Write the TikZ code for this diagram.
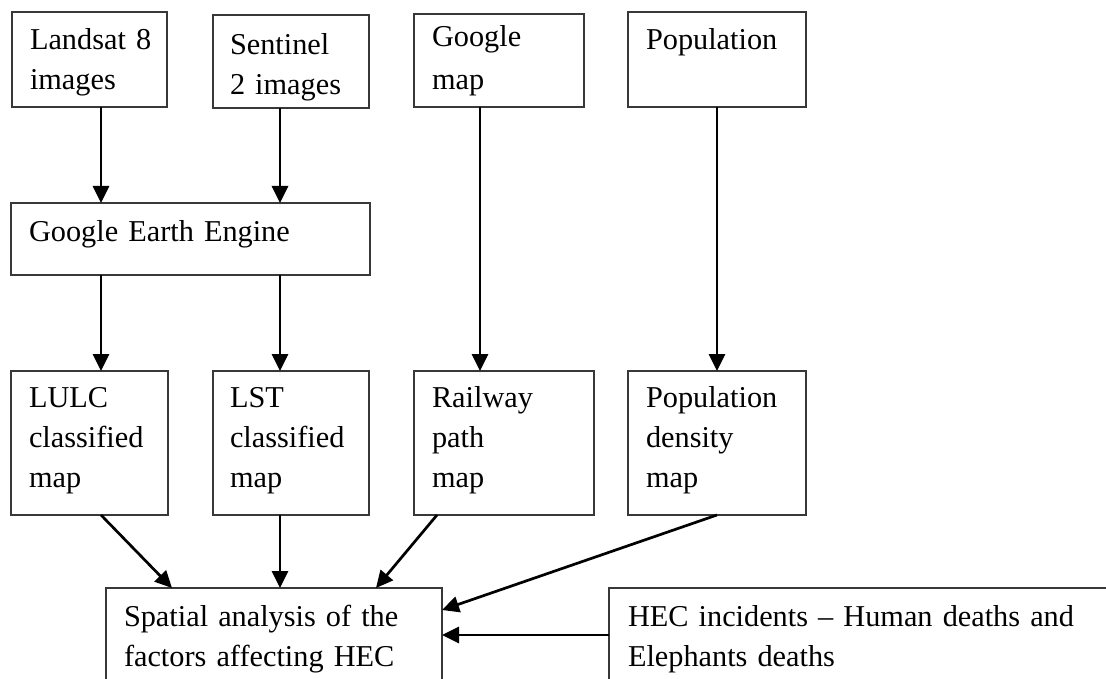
\documentclass[tikz,border=0pt]{standalone}
\usepackage{fontspec}
\setmainfont{Liberation Serif}
\usetikzlibrary{arrows.meta}
\tikzset{
  boxnode/.style={draw=black!78, line width=1.2pt, rectangle, anchor=north west,
    inner sep=0pt, outer sep=0pt},
  txt/.style={anchor=base west, inner sep=0pt, outer sep=0pt,
    font=\fontsize{30.3}{40}\selectfont, align=left, text width=#1},
  txt/.default=150pt,
  arr/.style={line width=2.7pt, -{Triangle[length=17pt,width=16pt]}}
}
\begin{document}
\begin{tikzpicture}[x=1pt,y=-1pt]
\useasboundingbox (0,0) rectangle (1106,679);
\clip (0,0) rectangle (1106,679);
\fill[white] (0,0) rectangle (1106,679);

% column coordinates
\coordinate (colA) at (101,0);
\coordinate (colB) at (280,0);
\coordinate (colC) at (480,0);
\coordinate (colD) at (717,0);

% boxes
\node[boxnode, minimum width=155pt, minimum height=95pt] (landsat) at (12,12) {};
\node[boxnode, minimum width=156pt, minimum height=93pt] (sentinel) at (213,15) {};
\node[boxnode, minimum width=170pt, minimum height=93pt] (google) at (414,14) {};
\node[boxnode, minimum width=178pt, minimum height=95pt] (population) at (628,12) {};
\node[boxnode, minimum width=359pt, minimum height=72pt] (gee) at (11,203) {};
\node[boxnode, minimum width=157pt, minimum height=144pt] (lulc) at (11,371) {};
\node[boxnode, minimum width=156pt, minimum height=144pt] (lst) at (213,371) {};
\node[boxnode, minimum width=180pt, minimum height=144pt] (railway) at (414,371) {};
\node[boxnode, minimum width=178pt, minimum height=144pt] (popdens) at (628,371) {};
\node[boxnode, minimum width=336pt, minimum height=130pt] (spatial) at (106,588) {};
\node[boxnode, minimum width=540pt, minimum height=130pt] (hec) at (609,588) {};

% texts
\node[txt] (tlandsat) at (30,50) {Landsat 8\\images};
\node[txt] (tsentinel) at (230,55) {Sentinel\\2 images};
\node[txt] (tgoogle) at (432,47) {Google\\[3pt]map};
\node[txt=170pt] (tpopulation) at (646,50) {Population};
\node[txt=340pt] (tgee) at (29,242) {Google Earth Engine};
\node[txt] (tlulc) at (29,407) {LULC\\classified\\map};
\node[txt] (tlst) at (230,407) {LST\\classified\\map};
\node[txt] (trailway) at (432,407) {Railway\\path\\map};
\node[txt=170pt] (tpopdens) at (646,407) {Population\\density\\map};
\node[txt=320pt] (tspatial) at (124,626) {\makebox[298pt][s]{Spatial analysis of the}\\factors affecting HEC};
\node[txt=470pt] (thec) at (628,626) {HEC incidents -- Human deaths and\\Elephants deaths};

% connectors
\draw[arr] (landsat.south -| colA) -- (gee.north -| colA);
\draw[arr] (sentinel.south -| colB) -- (gee.north -| colB);
\draw[arr] (google.south -| colC) -- (railway.north -| colC);
\draw[arr] (population.south -| colD) -- (popdens.north -| colD);
\draw[arr] (gee.south -| colA) -- (lulc.north -| colA);
\draw[arr] (gee.south -| colB) -- (lst.north -| colB);
\draw[arr] (lulc.south -| colA) -- ([xshift=66pt]spatial.north west);
\draw[arr] (lst.south -| colB) -- (spatial.north -| colB);
\draw[arr] ([xshift=23pt]railway.south west) -- ([xshift=270pt]spatial.north west);
\draw[arr] (popdens.south -| colD) -- ([yshift=-22pt]spatial.north east);
\draw[arr] ([yshift=-47pt]hec.north west) -- ([yshift=-47pt]spatial.north east);
\end{tikzpicture}
\end{document}
